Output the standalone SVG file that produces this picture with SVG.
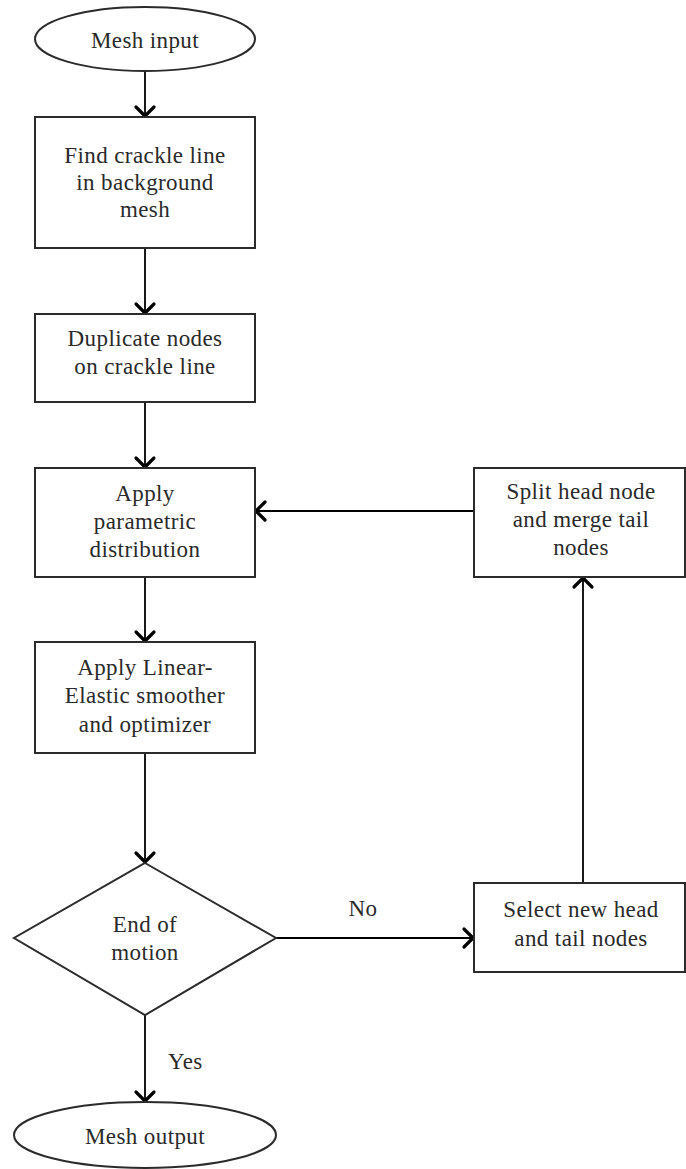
<svg xmlns="http://www.w3.org/2000/svg" width="686" height="1169" viewBox="0 0 686 1169">
<style>
.shape{fill:#fff;stroke:#2b2b2b;stroke-width:2}
.t{font-family:"Liberation Serif","Times New Roman",serif;font-size:23px;letter-spacing:0.4px;fill:#2a2a2a;text-anchor:middle}
.lbl{font-family:"Liberation Serif","Times New Roman",serif;font-size:23px;letter-spacing:0.4px;fill:#2a2a2a}
.c{stroke:#000;stroke-width:1.8;fill:none;marker-end:url(#ah)}
</style>
<defs>
<marker id="ah" markerUnits="userSpaceOnUse" viewBox="-12 -12 14 24" refX="0" refY="0" markerWidth="14" markerHeight="24" orient="auto" overflow="visible">
<path d="M-9,-9 L0,0 L-9,9" fill="none" stroke="#000" stroke-width="3.2" stroke-linecap="round" stroke-linejoin="round"/>
</marker>
</defs>
<rect width="686" height="1169" fill="#fff"/>
<g id="connectors">
<line class="c" x1="145" y1="71" x2="145" y2="116"/>
<line class="c" x1="145" y1="248" x2="145" y2="313"/>
<line class="c" x1="145" y1="402" x2="145" y2="467"/>
<line class="c" x1="145" y1="577" x2="145" y2="641"/>
<line class="c" x1="145" y1="753" x2="145" y2="862"/>
<line class="c" x1="145" y1="1015" x2="145" y2="1101"/>
<line class="c" x1="276" y1="938" x2="473" y2="938"/>
<line class="c" x1="583" y1="883" x2="583" y2="578"/>
<line class="c" x1="474" y1="511" x2="256" y2="511"/>
<text class="lbl" x="363" y="916" text-anchor="middle">No</text>
<text class="lbl" x="168" y="1069">Yes</text>
</g>
<g id="mesh-input">
<ellipse class="shape" cx="145" cy="39" rx="110" ry="32"/>
<text class="t" x="145" y="48">Mesh input</text>
</g>
<g id="find-crackle">
<rect class="shape" x="35" y="117" width="220" height="131"/>
<text class="t" x="145" y="163">Find crackle line</text>
<text class="t" x="145" y="190">in background</text>
<text class="t" x="145" y="217">mesh</text>
</g>
<g id="duplicate">
<rect class="shape" x="35" y="314" width="220" height="88"/>
<text class="t" x="145" y="346">Duplicate nodes</text>
<text class="t" x="145" y="374">on crackle line</text>
</g>
<g id="parametric">
<rect class="shape" x="35" y="468" width="220" height="109"/>
<text class="t" x="145" y="501">Apply</text>
<text class="t" x="145" y="529">parametric</text>
<text class="t" x="145" y="557">distribution</text>
</g>
<g id="split">
<rect class="shape" x="474" y="468" width="211" height="109"/>
<text class="t" x="581" y="499">Split head node</text>
<text class="t" x="581" y="527">and merge tail</text>
<text class="t" x="581" y="555">nodes</text>
</g>
<g id="smoother">
<rect class="shape" x="35" y="642" width="220" height="111"/>
<text class="t" x="145" y="675">Apply Linear-</text>
<text class="t" x="145" y="703">Elastic smoother</text>
<text class="t" x="145" y="732">and optimizer</text>
</g>
<g id="end-of-motion">
<polygon class="shape" points="145,863 276,938 145,1015 14,938"/>
<text class="t" x="145" y="932">End of</text>
<text class="t" x="145" y="960">motion</text>
</g>
<g id="select">
<rect class="shape" x="474" y="883" width="211" height="89"/>
<text class="t" x="581" y="917">Select new head</text>
<text class="t" x="581" y="946">and tail nodes</text>
</g>
<g id="mesh-output">
<ellipse class="shape" cx="145" cy="1135" rx="131" ry="33"/>
<text class="t" x="145" y="1144">Mesh output</text>
</g>
</svg>
